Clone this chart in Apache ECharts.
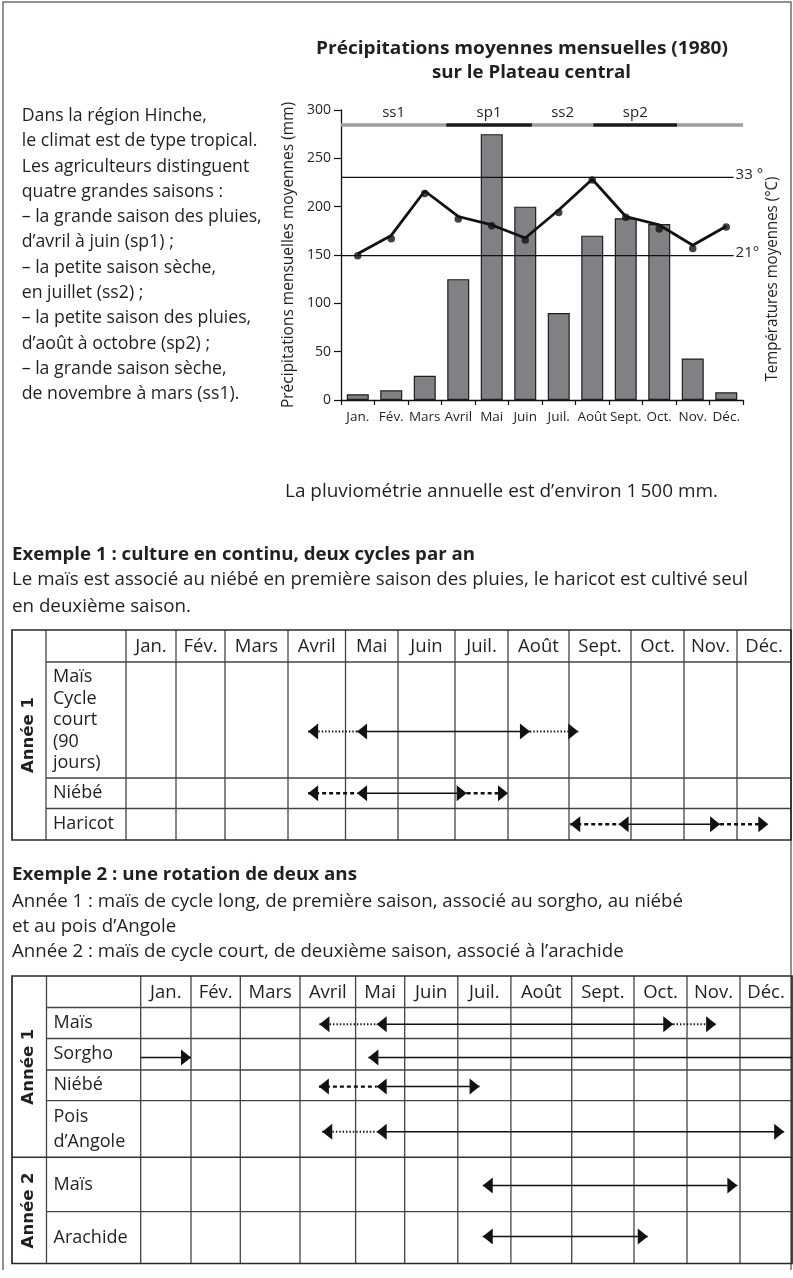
<!DOCTYPE html>
<html>
<head>
<meta charset="utf-8">
<script src="https://cdn.jsdelivr.net/npm/echarts@6/dist/echarts.min.js"></script>
<style>
  html, body { margin: 0; padding: 0; background: #fff; }
  #main { width: 793px; height: 1278px; }
</style>
</head>
<body>
<div id="main"></div>
<script>
// ---- données du climagramme ----
var months = ['Jan.', 'Fév.', 'Mars', 'Avril', 'Mai', 'Juin', 'Juil.', 'Août', 'Sept.', 'Oct.', 'Nov.', 'Déc.'];
var rainMm = [6, 10, 25, 125, 275, 200, 90, 170, 188, 182, 43, 8];
var tempLine = [21.3, 24.1, 30.9, 27.0, 25.7, 23.7, 28.0, 32.7, 27.0, 25.7, 22.6, 25.5];
var tempDots = [21.0, 23.6, 30.5, 26.6, 25.6, 23.4, 27.6, 32.6, 26.9, 25.1, 22.1, 25.4];
var tempRefs = [21, 33];
var tempRefLabels = ['21°', '33 °'];
var seasonNames = ['ss1', 'sp1', 'ss2', 'sp2', ''];
var seasonStart = [0, 3.14, 5.7, 7.53, 10.04];
var seasonEnd = [3.14, 5.7, 7.53, 10.04, 12];
var seasonWet = [0, 1, 0, 1, 0];

// ---- calendrier culturel, exemple 1 ----
var t1Rows = ['Maïs\nCycle\ncourt\n(90\njours)', 'Niébé', 'Haricot'];
var t1Years = ['Année 1'];
var t1ArrowRow = [0, 1, 2];
var t1Stops = [[3.35, 4.22, 7.36, 8.15], [3.35, 4.22, 6.22, 7.0], [8.02, 8.8, 10.68, 11.58]];
var t1Heads = [['l', 'l', 'r', 'r'], ['l', 'l', 'r', 'r'], ['l', 'l', 'r', 'r']];
var t1Strokes = [['dot', 'solid', 'dot'], ['dash', 'solid', 'dash'], ['dash', 'solid', 'dash']];

// ---- calendrier culturel, exemple 2 ----
var t2Rows = ['Maïs', 'Sorgho', 'Niébé', 'Pois\nd’Angole', 'Maïs', 'Arachide'];
var t2Years = ['Année 1', 'Année 2'];
var t2ArrowRow = [0, 1, 1, 2, 3, 4, 5];
var t2Stops = [[3.35, 4.43, 9.74, 10.55], [0, 1.0], [4.26, 12], [3.34, 4.43, 6.41], [3.40, 4.43, 11.85], [6.47, 10.95], [6.47, 9.26]];
var t2Heads = [['l', 'l', 'r', 'r'], ['-', 'r'], ['l', '-'], ['l', 'l', 'r'], ['l', 'l', 'r'], ['l', 'r'], ['l', 'r']];
var t2Strokes = [['dot', 'solid', 'dot'], ['solid'], ['solid'], ['dash', 'solid'], ['dot', 'solid'], ['solid'], ['solid']];

// ---- textes ----
var introLines = ['Dans la région Hinche,', 'le climat est de type tropical.', 'Les agriculteurs distinguent',
  'quatre grandes saisons :', '– la grande saison des pluies,', 'd’avril à juin (sp1) ;',
  '– la petite saison sèche,', 'en juillet (ss2) ;', '– la petite saison des pluies,',
  'd’août à octobre (sp2) ;', '– la grande saison sèche,', 'de novembre à mars (ss1).'];

// ---- mise en page ----
var FONT = "'Open Sans', 'Noto Sans', sans-serif";
var INK = '#231f20';
var CHART = { left: 341, top: 110, width: 402, height: 290 };
var SEASON_MM = 284.5;
var REF_END = 11.72;
var T1 = { left: 12, anneeW: 34, labelW: 80, top: 630, headH: 32,
  colW: [50, 49, 63, 57.5, 52.5, 57, 53, 61, 62, 53, 53, 54],
  rowH: [116, 30.5, 31.5], arrowAt: [0.6, 0.5, 0.5], labelLH: 21.5, yearEnds: [3] };
var T2 = { left: 12, anneeW: 34.5, labelW: 94.2, top: 976, headH: 31.5,
  colW: [50.3, 49.3, 59.7, 55.6, 49.1, 53.1, 53.1, 60.8, 62.3, 53, 53, 52],
  rowH: [31, 31.5, 30.7, 56.6, 54.4, 51.8], arrowAt: [0.54, 0.6, 0.54, 0.55, 0.52, 0.48], labelLH: 25, yearEnds: [4, 6] };

function sum(a, n) { var s = 0; for (var i = 0; i < (n == null ? a.length : n); i++) s += a[i]; return s; }

// position fractionnaire dans des cellules de tailles inégales -> valeur sur un axe 0..n
function cellPos(v, sizes) {
  var i = Math.min(Math.floor(v), sizes.length - 1);
  var acc = sum(sizes, i) + (v - i) * sizes[i];
  return acc / sum(sizes) * sizes.length;
}

var mctx = document.createElement('canvas').getContext('2d');
function measure(str, size, weight, family) {
  mctx.font = (weight || 'normal') + ' ' + size + 'px ' + (family || FONT);
  return mctx.measureText(str).width;
}
function txt(str, x, y, o) {
  o = o || {};
  var size = o.size || 17.5, weight = o.weight || 'normal', family = o.family || FONT;
  var sx = o.scale || 1;
  if (o.width) sx = o.width / measure(str, size, weight, family);
  return {
    type: 'text', x: x, y: y, scaleX: sx, rotation: o.rotation || 0, silent: true, z: 10,
    style: {
      text: str, fill: INK, fontSize: size, fontWeight: weight, fontFamily: family,
      align: o.align || 'left', verticalAlign: 'middle', lineHeight: o.lineHeight
    }
  };
}
function seg(x1, y1, x2, y2, color, w) {
  return { type: 'line', silent: true, z: 5, shape: { x1: x1, y1: y1, x2: x2, y2: y2 },
    style: { stroke: color || '#444', lineWidth: w || 1.3 } };
}

function tableGraphics(T, rows, years) {
  var els = [];
  var monthLeft = T.left + T.anneeW + T.labelW;
  var right = monthLeft + sum(T.colW);
  var bodyTop = T.top + T.headH;
  var bottom = bodyTop + sum(T.rowH);
  var inner = T.left + T.anneeW;
  // traits verticaux
  els.push(seg(inner, T.top, inner, bottom));
  els.push(seg(monthLeft, T.top, monthLeft, bottom));
  for (var c = 1; c < T.colW.length; c++) {
    var x = monthLeft + sum(T.colW, c);
    els.push(seg(x, T.top, x, bottom));
  }
  // traits horizontaux
  els.push(seg(inner, bodyTop, right, bodyTop));
  for (var r = 1; r < T.rowH.length; r++) {
    var y = bodyTop + sum(T.rowH, r);
    var full = T.yearEnds.indexOf(r) >= 0;
    els.push(seg(full ? T.left : inner, y, right, y, full ? '#333' : '#444', full ? 1.6 : 1.3));
  }
  els.push({ type: 'rect', silent: true, z: 6, shape: { x: T.left, y: T.top, width: right - T.left, height: bottom - T.top },
    style: { fill: 'none', stroke: '#2a2a2a', lineWidth: 1.7 } });
  // en-têtes des mois
  months.forEach(function (m, i) {
    els.push(txt(m, monthLeft + sum(T.colW, i) + T.colW[i] / 2, T.top + T.headH / 2 + 1, { size: 18.5, align: 'center' }));
  });
  // libellés des cultures
  rows.forEach(function (lab, i) {
    els.push(txt(lab, inner + 7, bodyTop + sum(T.rowH, i) + T.rowH[i] / 2, { size: 18, lineHeight: T.labelLH }));
  });
  // années (texte vertical)
  var start = T.top;
  years.forEach(function (yName, k) {
    var end = bodyTop + sum(T.rowH, T.yearEnds[k]);
    els.push(txt(yName, T.left + T.anneeW / 2, (start + end) / 2, {
      size: 15.5, weight: 'bold', family: "'DejaVu Sans', sans-serif", align: 'center', rotation: Math.PI / 2, width: 76 }));
    start = end;
  });
  return els;
}

function arrowRenderer(T, rowsOf, stopsArr, headsArr, strokesArr) {
  return function (params, api) {
    var g = api.value(2);
    var row = rowsOf[g];
    var y = api.coord([0, cellPos(row + T.arrowAt[row], T.rowH)])[1];
    var xs = stopsArr[g].map(function (s) { return api.coord([cellPos(s, T.colW), 0])[0]; });
    var children = [];
    strokesArr[g].forEach(function (kind, k) {
      var st = { stroke: '#111', lineWidth: 1.5 };
      if (kind === 'dot') { st.lineWidth = 2; st.lineDash = [1.4, 2]; }
      if (kind === 'dash') { st.lineWidth = 2.4; st.lineDash = [4, 3]; }
      children.push({ type: 'line', shape: { x1: xs[k], y1: y, x2: xs[k + 1], y2: y }, style: st });
    });
    headsArr[g].forEach(function (h, k) {
      if (h === '-') return;
      var d = h === 'l' ? 10 : -10;
      children.push({ type: 'polygon', shape: { points: [[xs[k], y], [xs[k] + d, y - 8], [xs[k] + d, y + 8]] },
        style: { fill: '#111' } });
    });
    return { type: 'group', children: children };
  };
}

// ---- graphiques hors axes ----
var els = [];
// cadre
els.push({ type: 'polyline', silent: true, shape: { points: [[3, 1270], [3, 2], [791, 2], [791, 1270]] },
  style: { fill: 'none', stroke: '#6d6e70', lineWidth: 1.5 } });
// titre
els.push(txt('Précipitations moyennes mensuelles (1980)', 316, 49, { size: 17.5, weight: 'bold', width: 412 }));
els.push(txt('sur le Plateau central', 432, 73, { size: 17.5, weight: 'bold', width: 199 }));
// paragraphe
var introScale = 240 / measure(introLines[4], 17.5);
introLines.forEach(function (l, i) {
  els.push(txt(l, 21.7, 116 + i * 25.3, { size: 17.5, scale: introScale }));
});
// nom de l'axe des températures
els.push(txt('Températures moyennes (°C)', 773, 279, { size: 15.5, align: 'center', rotation: Math.PI / 2, width: 205 }));
els.push(txt('La pluviométrie annuelle est d’environ 1\u2009500 mm.', 285, 492, { size: 17.5, width: 433 }));
// exemple 1
els.push(txt('Exemple 1 : culture en continu, deux cycles par an', 12, 555, { size: 17.5, weight: 'bold', width: 463 }));
var ex1Scale = 736 / measure('Le maïs est associé au niébé en première saison des pluies, le haricot est cultivé seul', 17.5);
els.push(txt('Le maïs est associé au niébé en première saison des pluies, le haricot est cultivé seul', 12, 580, { size: 17.5, scale: ex1Scale }));
els.push(txt('en deuxième saison.', 12, 606.7, { size: 17.5, scale: ex1Scale }));
// exemple 2
els.push(txt('Exemple 2 : une rotation de deux ans', 12, 875, { size: 17.5, weight: 'bold', width: 345 }));
var ex2Scale = 671 / measure('Année 1 : maïs de cycle long, de première saison, associé au sorgho, au niébé', 17.5);
els.push(txt('Année 1 : maïs de cycle long, de première saison, associé au sorgho, au niébé', 12, 901.7, { size: 17.5, scale: ex2Scale }));
els.push(txt('et au pois d’Angole', 12, 927.3, { size: 17.5, scale: ex2Scale }));
els.push(txt('Année 2 : maïs de cycle court, de deuxième saison, associé à l’arachide', 12, 951.7, { size: 17.5, scale: ex2Scale }));
// tableaux
els = els.concat(tableGraphics(T1, t1Rows, t1Years), tableGraphics(T2, t2Rows, t2Years));

function tableGrid(T) {
  var monthLeft = T.left + T.anneeW + T.labelW;
  return { left: monthLeft, top: T.top + T.headH, width: sum(T.colW), height: sum(T.rowH), containLabel: false };
}

var chart = echarts.init(document.getElementById('main'));
chart.setOption({
  animation: false,
  backgroundColor: '#fff',
  textStyle: { fontFamily: FONT, color: INK },
  grid: [
    { left: CHART.left, top: CHART.top, width: CHART.width, height: CHART.height },
    tableGrid(T1),
    tableGrid(T2)
  ],
  xAxis: [
    {
      type: 'category', gridIndex: 0, data: months,
      axisLine: { lineStyle: { color: '#111', width: 1.3 } },
      axisTick: { show: true, length: 5, interval: 0, lineStyle: { color: '#111', width: 1.2 } },
      axisLabel: { interval: 0, fontSize: 13.5, color: INK, margin: 10, fontFamily: FONT }
    },
    { type: 'value', gridIndex: 0, min: 0, max: 12, show: false },
    { type: 'value', gridIndex: 1, min: 0, max: 12, show: false },
    { type: 'value', gridIndex: 2, min: 0, max: 12, show: false }
  ],
  yAxis: [
    {
      type: 'value', gridIndex: 0, min: 0, max: 300, interval: 50,
      name: 'Précipitations mensuelles moyennes (mm)', nameLocation: 'middle', nameGap: 41, nameRotate: 90,
      nameTextStyle: { fontSize: 15.5, color: INK, fontFamily: FONT },
      axisLine: { show: true, lineStyle: { color: '#111', width: 1.3 } },
      axisTick: { show: true, length: 7, lineStyle: { color: '#111', width: 1.2 } },
      axisLabel: { fontSize: 14, color: INK, margin: 10, fontFamily: FONT },
      splitLine: { show: false }
    },
    { type: 'value', gridIndex: 0, min: -1.09, max: 43.3, show: false },
    { type: 'value', gridIndex: 1, min: 0, max: T1.rowH.length, inverse: true, show: false },
    { type: 'value', gridIndex: 2, min: 0, max: T2.rowH.length, inverse: true, show: false }
  ],
  series: [
    {
      name: 'Précipitations', type: 'bar', xAxisIndex: 0, yAxisIndex: 0, data: rainMm, barWidth: 22,
      itemStyle: { color: '#808184', borderColor: '#1e1e1e', borderWidth: 1.2 }
    },
    {
      type: 'custom', xAxisIndex: 1, yAxisIndex: 1, z: 3,
      data: tempRefs.map(function (t, i) { return [0, t, i]; }),
      encode: { x: 0, y: 1 },
      renderItem: function (params, api) {
        var t = api.value(1);
        var a = api.coord([0, t]), b = api.coord([REF_END, t]);
        return { type: 'group', children: [
          { type: 'line', shape: { x1: a[0], y1: a[1], x2: b[0], y2: b[1] }, style: { stroke: '#111', lineWidth: 1.2 } },
          { type: 'text', x: b[0] + 2, y: b[1] - 2.5,
            style: { text: tempRefLabels[api.value(2)], fill: INK, fontSize: 15, fontFamily: FONT, align: 'left', verticalAlign: 'middle' } }
        ] };
      }
    },
    {
      name: 'Températures', type: 'line', xAxisIndex: 0, yAxisIndex: 1, data: tempLine, symbol: 'none', z: 5,
      lineStyle: { color: '#111', width: 2.8 }
    },
    {
      type: 'scatter', xAxisIndex: 0, yAxisIndex: 1, data: tempDots, symbolSize: 7.5, z: 6,
      itemStyle: { color: '#111' }
    },
    {
      type: 'custom', xAxisIndex: 1, yAxisIndex: 0, z: 4,
      data: seasonStart.map(function (s, i) { return [s, seasonEnd[i], SEASON_MM, seasonWet[i], i]; }),
      encode: { x: [0, 1], y: 2 },
      renderItem: function (params, api) {
        var p0 = api.coord([api.value(0), api.value(2)]);
        var p1 = api.coord([api.value(1), api.value(2)]);
        var children = [{ type: 'rect', shape: { x: p0[0], y: p0[1] - 1.8, width: p1[0] - p0[0], height: 3.6 },
          style: { fill: api.value(3) ? '#1a1a1a' : '#9d9fa2' } }];
        var name = seasonNames[api.value(4)];
        if (name) {
          children.push({ type: 'text', x: (p0[0] + p1[0]) / 2, y: p0[1] - 12,
            style: { text: name, fill: INK, fontSize: 15, fontFamily: FONT, align: 'center', verticalAlign: 'middle' } });
        }
        return { type: 'group', children: children };
      }
    },
    {
      type: 'custom', xAxisIndex: 2, yAxisIndex: 2, z: 8,
      data: t1Stops.map(function (s, i) { return [s[0], t1ArrowRow[i], i]; }),
      encode: { x: 0, y: 1 },
      renderItem: arrowRenderer(T1, t1ArrowRow, t1Stops, t1Heads, t1Strokes)
    },
    {
      type: 'custom', xAxisIndex: 3, yAxisIndex: 3, z: 8,
      data: t2Stops.map(function (s, i) { return [s[0], t2ArrowRow[i], i]; }),
      encode: { x: 0, y: 1 },
      renderItem: arrowRenderer(T2, t2ArrowRow, t2Stops, t2Heads, t2Strokes)
    }
  ],
  graphic: { elements: els }
});
</script>
</body>
</html>
